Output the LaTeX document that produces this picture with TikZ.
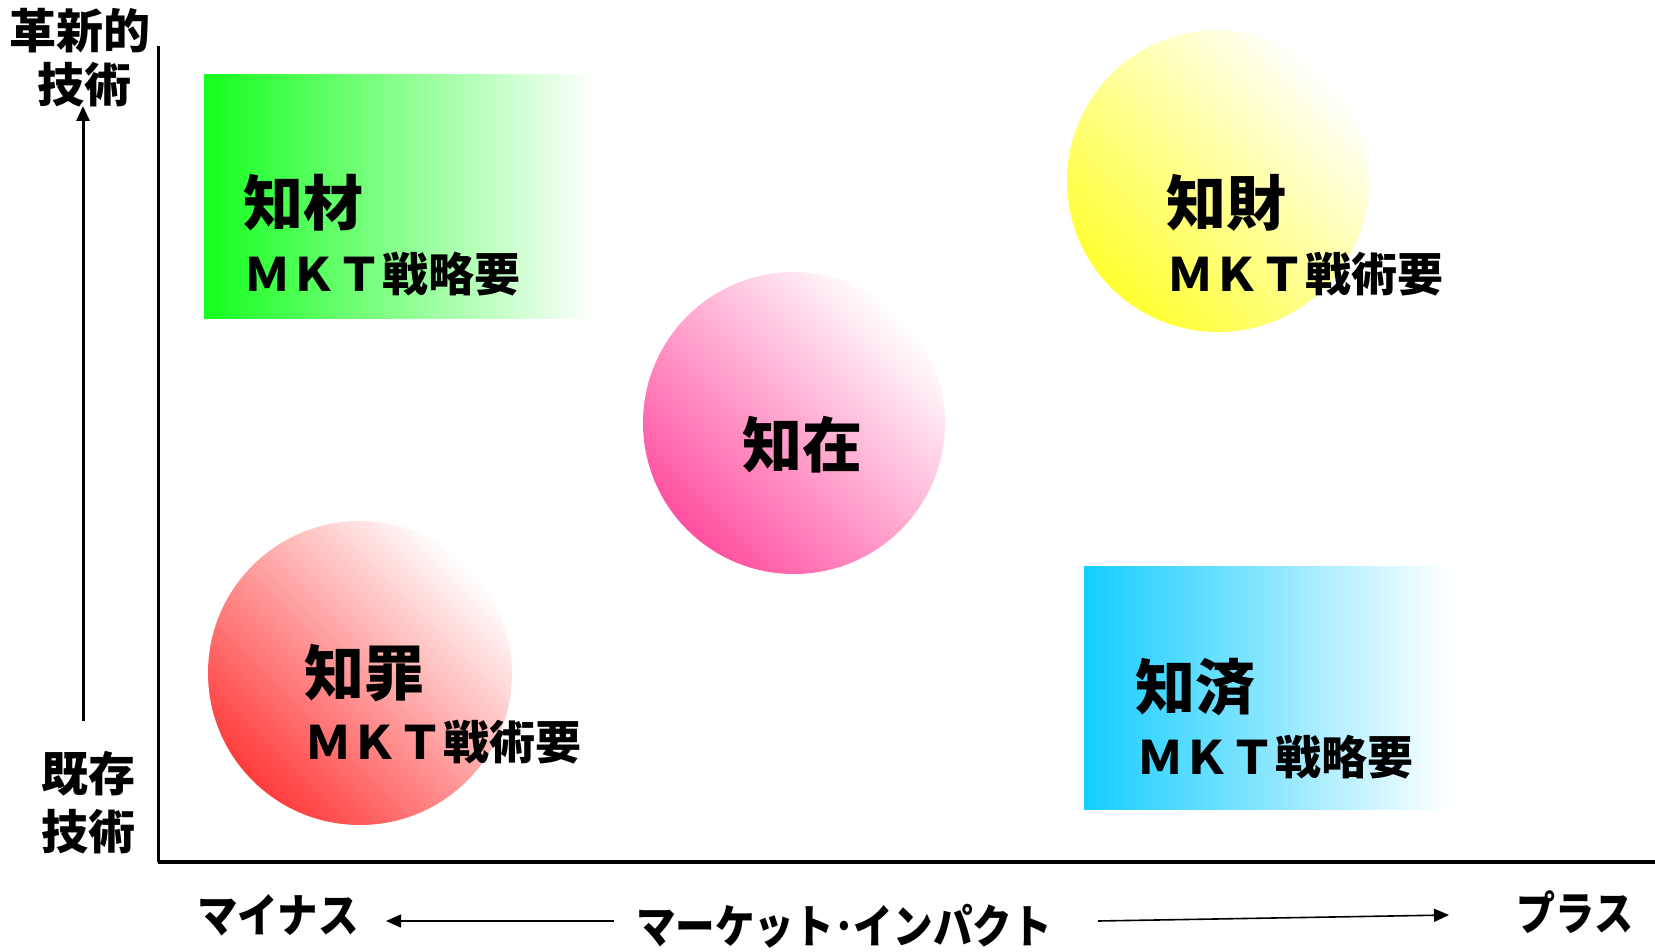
\documentclass[tikz,border=0pt]{standalone}
\usepackage{fontspec}
\setmainfont{Noto Sans CJK JP}
\usetikzlibrary{arrows.meta}
\definecolor{cgreen}{RGB}{20,255,30}
\definecolor{cblue}{RGB}{20,205,255}
\definecolor{cyellow}{RGB}{255,255,50}
\definecolor{cpink}{RGB}{255,80,160}
\definecolor{cred}{RGB}{255,60,60}
\tikzset{
  big/.style={inner sep=0pt, font=\fontsize{60}{60}\selectfont\bfseries},
  sub/.style={inner sep=0pt, font=\fontsize{46}{46}\selectfont\bfseries},
  axlab/.style={inner sep=0pt, font=\fontsize{47}{47}\selectfont\bfseries},
  kata/.style={inner sep=0pt, font=\fontsize{46}{46}\selectfont\bfseries},
  thinarrow/.style={line width=1.6pt, -{Triangle[length=15pt,width=13pt]}},
  ball/.style={right color=white, shading angle=135},
}
\begin{document}
\begin{tikzpicture}[x=1pt,y=-1pt]
\useasboundingbox (0,0) rectangle (1655,952);
% boxes and circles
\shade[left color=cgreen, middle color=cgreen!30, right color=white] (204,75) rectangle (595,318);
\shade[left color=cblue, middle color=cblue!30, right color=white] (1084,566) rectangle (1450,809);
\shade[left color=cyellow, ball] (1218,181) circle (151);
\shade[left color=cpink, ball] (794,423) circle (151);
\shade[left color=cred, ball] (360,673) circle (152);
% axes
\coordinate (ytop) at (158,46);
\coordinate (origin) at (158,862);
\coordinate (xend) at (1655,862);
\draw[line width=3pt] (ytop) -- (origin);
\draw[line width=4pt] (origin) -- (xend);
% up arrow
\coordinate (upS) at (83,721);
\coordinate (upE) at (83,106);
\draw[line width=3pt, -{Triangle[length=15pt,width=13pt]}] (upS) -- (upE);
% axis labels
\node[axlab] (t1) at (80,31) {革新的};
\node[axlab] (t2) at (84,85) {技術};
\node[axlab] (b1) at (88,774) {既存};
\node[axlab] (b2) at (88,832) {技術};
% quadrant labels
\node[big] (zai) at (303,203) {知材};
\node[sub] (zaisub) at (382,274) {ＭＫＴ戦略要};
\node[big] (zaisan) at (1226,203) {知財};
\node[sub] (zaisansub) at (1305,274) {ＭＫＴ戦術要};
\node[big] (zaiz) at (802,445) {知在};
\node[big] (zaizai) at (364,673) {知罪};
\node[sub] (zaizaisub) at (443,742) {ＭＫＴ戦術要};
\node[big] (zaisumi) at (1195,687) {知済};
\node[sub] (zaisumisub) at (1275,757) {ＭＫＴ戦略要};
% bottom labels
\node[kata] (minus) at (278,915) {\scalebox{0.88}[1]{マイナス}};
\node[kata] (impact) at (844,926) {\scalebox{0.86}[1]{マーケット･インパクト}};
\node[kata] (plus) at (1575,912) {\scalebox{0.85}[1]{プラス}};
\coordinate (laS) at (614,921);
\coordinate (laE) at (386,921);
\coordinate (raS) at (1098,921);
\coordinate (raE) at (1449,915);
\draw[thinarrow] (laS) -- (laE);
\draw[thinarrow] (raS) -- (raE);
\end{tikzpicture}
\end{document}
